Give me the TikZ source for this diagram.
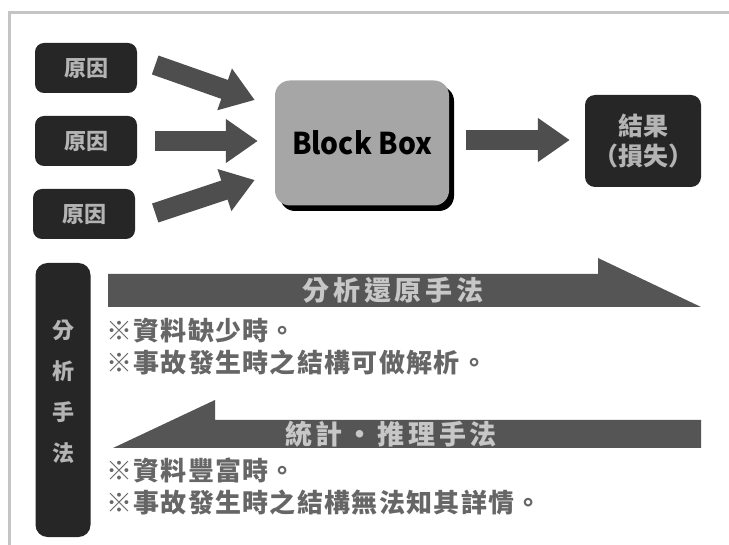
\documentclass[tikz,border=0pt]{standalone}
\usepackage{fontspec}
\newfontfamily\cjk{Noto Sans CJK TC}
\newfontfamily\cjkwide[LetterSpace=5]{Noto Sans CJK TC}
\newfontfamily\cjkband[LetterSpace=14]{Noto Sans CJK TC}
\newfontfamily\cjknarrow[FakeStretch=0.94]{Noto Sans CJK TC}
\usetikzlibrary{arrows.meta}
\definecolor{framegray}{HTML}{C4C4C4}
\definecolor{boxdark}{HTML}{262626}
\definecolor{boxtext}{HTML}{B4B4B4}
\definecolor{arrowgray}{HTML}{4E4E4E}
\definecolor{bandgray}{HTML}{555555}
\definecolor{bbfill}{HTML}{A6A6A6}
\definecolor{notegray}{HTML}{666666}
\tikzset{
  causebox/.style={fill=boxdark, rounded corners=9pt, minimum width=102pt, minimum height=50pt,
    text=boxtext, font=\cjk\bfseries\fontsize{22}{22}\selectfont, inner sep=0pt},
  fatarrow/.style={draw=arrowgray, line width=20pt,
    -{Triangle[width=42pt,length=32pt]}},
  notetext/.style={anchor=west, text=notegray, font=\cjkwide\bfseries\fontsize{26}{26}\selectfont, inner sep=0pt},
  bandtext/.style={text=boxtext!75!white, font=\cjkband\bfseries\fontsize{27}{27}\selectfont, inner sep=0pt},
}
\begin{document}
\begin{tikzpicture}[x=1pt,y=-1pt]
\useasboundingbox (0,0) rectangle (729,545);
\fill[white] (0,0) rectangle (729,545);
% frame
\draw[framegray, line width=3pt] (9,545) -- (9,13) -- (729,13);
% cause boxes
\node[causebox] (c1) at (86,68) {原因};
\node[causebox] (c2) at (86,141) {原因};
\node[causebox] (c3) at (84,214) {原因};
% Block Box with shadow
\fill[black, rounded corners=15pt] (280,86) rectangle (454,211);
\node[fill=bbfill, rounded corners=15pt, minimum width=174pt, minimum height=125pt, inner sep=0pt,
  font=\cjknarrow\bfseries\fontsize{30}{30}\selectfont] (bb) at (362,143) {Block Box};
% result box
\node[fill=boxdark, rounded corners=10pt, minimum width=116pt, minimum height=92pt, inner sep=0pt,
  text=boxtext, align=center, font=\cjk\bfseries\fontsize{25}{30}\selectfont] (res) at (643,141)
  {結果\\（損失）};
% connectors
\draw[fatarrow] ([xshift=18pt,yshift=3pt]c1.east) -- ([xshift=-20pt,yshift=43pt]bb.west);
\draw[fatarrow] ([xshift=18pt]c2.east) -- ([xshift=-17pt,yshift=2pt]bb.west);
\draw[fatarrow] ([xshift=20pt,yshift=1pt]c3.east) -- ([xshift=-20pt,yshift=-37pt]bb.west);
\draw[fatarrow] ([xshift=17pt,yshift=3pt]bb.east) -- ([xshift=-15pt,yshift=1pt]res.west);
% vertical bar
\node[fill=boxdark, rounded corners=12pt, minimum width=55pt, minimum height=274pt, inner sep=0pt] (bar) at (63,400) {};
\node[text=boxtext, align=center, font=\cjk\bfseries\fontsize{22}{41}\selectfont] (bartxt) at (63,392) {分\\析\\手\\法};
% top band arrow (pointing right)
\fill[bandgray] (108,274) -- (598,274) -- (598,258) -- (701,307) -- (108,307) -- cycle;
\node[bandtext] (t1) at (393,290) {分析還原手法};
\node[notetext] (n1) at (106,331) {※資料缺少時。};
\node[notetext] (n2) at (106,362) {※事故發生時之結構可做解析。};
% bottom band arrow (pointing left)
\fill[bandgray] (701,420) -- (215,420) -- (215,400) -- (113,448) -- (701,448) -- cycle;
\node[bandtext] (t2) at (391,434) {統計・推理手法};
\node[notetext] (n3) at (106,470) {※資料豐富時。};
\node[notetext] (n4) at (106,503) {※事故發生時之結構無法知其詳情。};
\end{tikzpicture}
\end{document}
